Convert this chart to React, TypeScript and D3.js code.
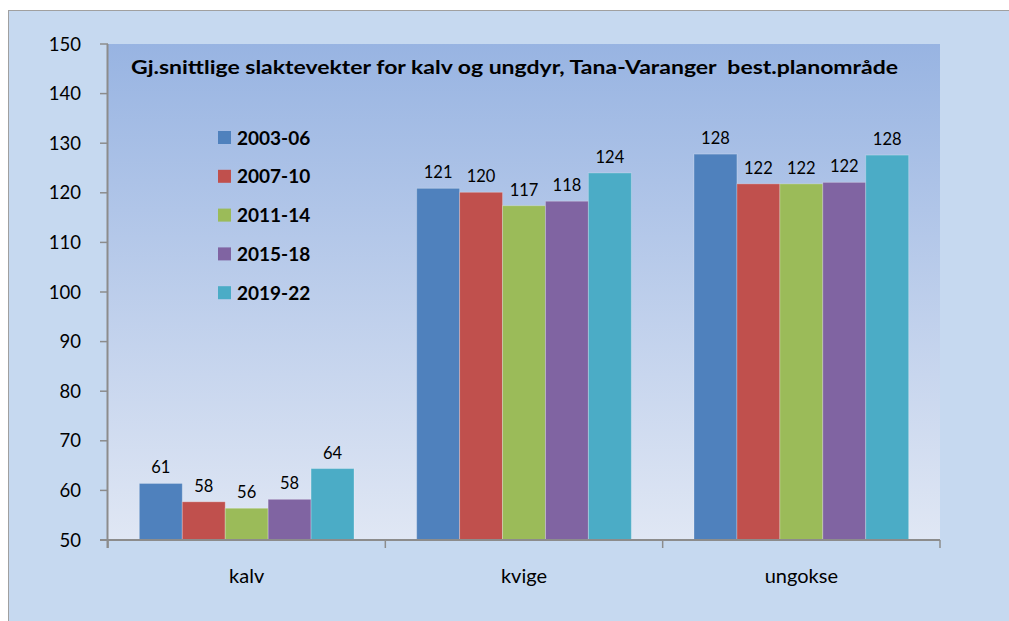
import React from "react";
import * as d3 from "d3";

const categories = ["kalv", "kvige", "ungokse"];
const seriesNames = ["2003-06", "2007-10", "2011-14", "2015-18", "2019-22"];
const seriesColors = ["#4f81bd", "#c0504d", "#9bbb59", "#8064a2", "#4bacc6"];
const values2003 = [61.4, 120.9, 127.8];
const values2007 = [57.7, 120.1, 121.8];
const values2011 = [56.4, 117.4, 121.8];
const values2015 = [58.2, 118.3, 122.1];
const values2019 = [64.4, 124.0, 127.6];
const yTicks = [50, 60, 70, 80, 90, 100, 110, 120, 130, 140, 150];
const title = "Gj.snittlige slaktevekter for kalv og ungdyr, Tana-Varanger\u00a0 best.planområde";

const seriesValues = [values2003, values2007, values2011, values2015, values2019];

const W = 1009;
const H = 621;
const plot = { left: 108, right: 940, top: 44, bottom: 540 };
const FONT = "Lato, 'Open Sans', sans-serif";

export default function App() {
  const y = d3.scaleLinear().domain([50, 150]).range([plot.bottom, plot.top]);
  const x0 = d3.scaleBand().domain(categories).range([plot.left, plot.right]).paddingInner(0.226).paddingOuter(0.113);
  const x1 = d3.scaleBand().domain(seriesNames).range([0, x0.bandwidth()]).padding(0);
  const catStep = (plot.right - plot.left) / categories.length;

  return (
    <svg width={W} height={H} style={{ position: "absolute", left: 0, top: 0 }}>
      <defs>
        <linearGradient id="plotGrad" x1="0" y1="0" x2="0" y2="1">
          <stop offset="0" stopColor="#98b4e2" />
          <stop offset="1" stopColor="#e0e7f4" />
        </linearGradient>
      </defs>
      <rect x={0} y={0} width={W} height={H} fill="#ffffff" />
      <rect x={8.5} y={10.5} width={W} height={H} fill="#c6d9f0" stroke="#a0a0a0" strokeWidth={1} />
      <rect x={plot.left} y={plot.top} width={plot.right - plot.left} height={plot.bottom - plot.top} fill="url(#plotGrad)" />

      {/* bars */}
      {seriesNames.map((s, si) => (
        <g key={s}>
          {categories.map((c, ci) => {
            const v = seriesValues[si][ci];
            const bx = (x0(c) as number) + (x1(s) as number);
            const by = y(v);
            return (
              <g key={c}>
                <rect x={bx} y={by} width={x1.bandwidth()} height={plot.bottom - by} fill={seriesColors[si]} stroke="rgba(255,255,255,0.25)" strokeWidth={1} />
                <text x={bx + x1.bandwidth() / 2} y={by - 10} textAnchor="middle" fontFamily={FONT} fontSize={16.5} fill="#000">
                  {Math.round(v)}
                </text>
              </g>
            );
          })}
        </g>
      ))}

      {/* y axis */}
      <line x1={plot.left - 0.5} x2={plot.left - 0.5} y1={plot.top} y2={plot.bottom + 8} stroke="#8c8c8c" strokeWidth={2} />
      {yTicks.map((t) => (
        <g key={t}>
          <line x1={plot.left - 8} x2={plot.left} y1={y(t)} y2={y(t)} stroke="#8c8c8c" strokeWidth={1.5} />
          <text x={plot.left - 27} y={y(t) + 6.5} textAnchor="end" fontFamily={FONT} fontSize={18.5} fill="#000">
            {t}
          </text>
        </g>
      ))}

      {/* x axis */}
      <line x1={plot.left - 8} x2={plot.right} y1={plot.bottom} y2={plot.bottom} stroke="#8c8c8c" strokeWidth={2} />
      {d3.range(categories.length + 1).map((i) => (
        <line key={i} x1={plot.left + i * catStep} x2={plot.left + i * catStep} y1={plot.bottom} y2={plot.bottom + 8} stroke="#8c8c8c" strokeWidth={1.5} />
      ))}
      {categories.map((c) => (
        <text key={c} x={(x0(c) as number) + x0.bandwidth() / 2} y={plot.bottom + 43} textAnchor="middle" fontFamily={FONT} fontSize={20} fill="#000">
          {c}
        </text>
      ))}

      {/* title */}
      <text x={131} y={74} textLength={767} lengthAdjust="spacingAndGlyphs" fontFamily={FONT} fontWeight="bold" fontSize={19.5} fill="#000">
        {title}
      </text>

      {/* legend */}
      {seriesNames.map((s, i) => (
        <g key={s} transform={`translate(218, ${131 + i * 38.8})`}>
          <rect x={0} y={0} width={13} height={13} fill={seriesColors[i]} />
          <text x={19} y={13.5} fontFamily={FONT} fontWeight="bold" fontSize={19} fill="#000">
            {s}
          </text>
        </g>
      ))}
    </svg>
  );
}
